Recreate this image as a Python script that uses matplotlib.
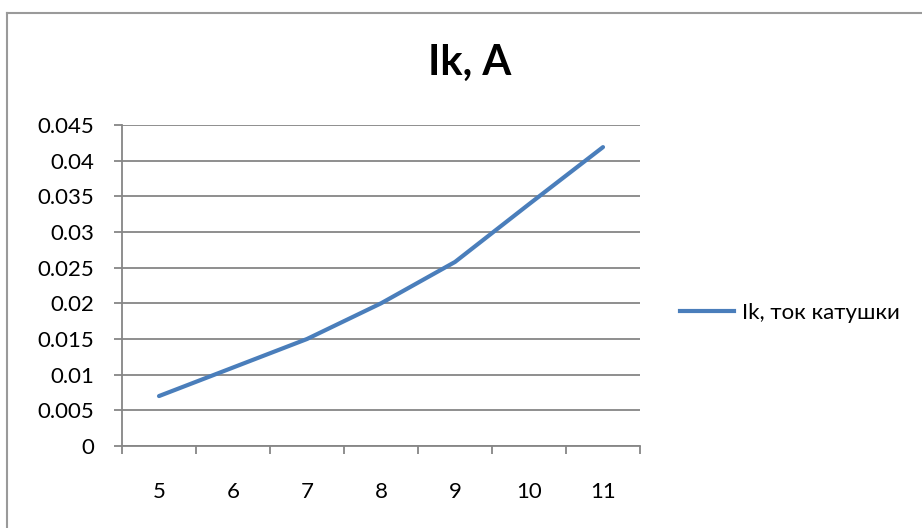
import matplotlib
matplotlib.use("Agg")
import matplotlib.pyplot as plt
from matplotlib.lines import Line2D

# --- data ---
categories = ["5", "6", "7", "8", "9", "10", "11"]
current = [0.007, 0.011, 0.015, 0.020, 0.0258, 0.0339, 0.0419]
y_ticks = [0, 0.005, 0.01, 0.015, 0.02, 0.025, 0.03, 0.035, 0.04, 0.045]
y_labels = ["0", "0.005", "0.01", "0.015", "0.02", "0.025", "0.03", "0.035", "0.04", "0.045"]
series_name = "Ik, ток катушки"
title = "Ik, A"

plt.rcParams['font.family'] = ['Lato', 'Open Sans', 'DejaVu Sans']

W, H = 922, 528
fig = plt.figure(figsize=(W / 100, H / 100), dpi=100)
grid_c = "#868686"
line_c = "#4A7EBB"

# plot area (pixels from the reference)
left, right, top, bottom = 122, 640, 125, 446
ax = fig.add_axes([left / W, 1 - bottom / H, (right - left) / W, (bottom - top) / H])

x = list(range(len(categories)))
ax.plot(x, current, color=line_c, lw=3.0, solid_capstyle="round", solid_joinstyle="round")

ax.set_xlim(-0.5, len(categories) - 0.5)
ax.set_ylim(0, 0.045)

# y axis
ax.set_yticks(y_ticks)
ax.set_yticklabels(y_labels)
ax.yaxis.grid(True, color=grid_c, lw=1.3)
ax.set_axisbelow(True)

# x axis: tick marks on category borders, labels in the middle
ax.set_xticks([i - 0.5 for i in range(len(categories) + 1)])
ax.set_xticklabels([])
ax.set_xticks(x, minor=True)
ax.set_xticklabels(categories, minor=True)
ax.tick_params(axis="x", which="minor", length=0, pad=26, labelsize=16)
ax.tick_params(axis="x", which="major", length=6, width=1.3, color=grid_c)
ax.tick_params(axis="y", length=6, width=1.3, color=grid_c, pad=14, labelsize=16)

for s in ["top", "right"]:
    ax.spines[s].set_visible(False)
for s in ["left", "bottom"]:
    ax.spines[s].set_color(grid_c)
    ax.spines[s].set_linewidth(1.3)

# title
fig.text(470 / W, 1 - 63 / H, title, ha="center", va="center", fontsize=30, fontweight="bold")

# legend
fig.legend(loc="center left", bbox_to_anchor=(680 / W, 1 - 313 / H), bbox_transform=fig.transFigure,
           handles=[Line2D([], [], color=line_c, lw=3.0)], labels=[series_name],
           frameon=False, fontsize=16, handlelength=2.45, handletextpad=0.35,
           borderpad=0, borderaxespad=0)

# chart border (only top and left visible in the crop)
fig.add_artist(Line2D([7 / W, 1], [1 - 13 / H, 1 - 13 / H], transform=fig.transFigure, color="#9a9a9a", lw=1.5))
fig.add_artist(Line2D([7 / W, 7 / W], [0, 1 - 13 / H], transform=fig.transFigure, color="#9a9a9a", lw=1.5))

fig.savefig("out.png", dpi=100)
